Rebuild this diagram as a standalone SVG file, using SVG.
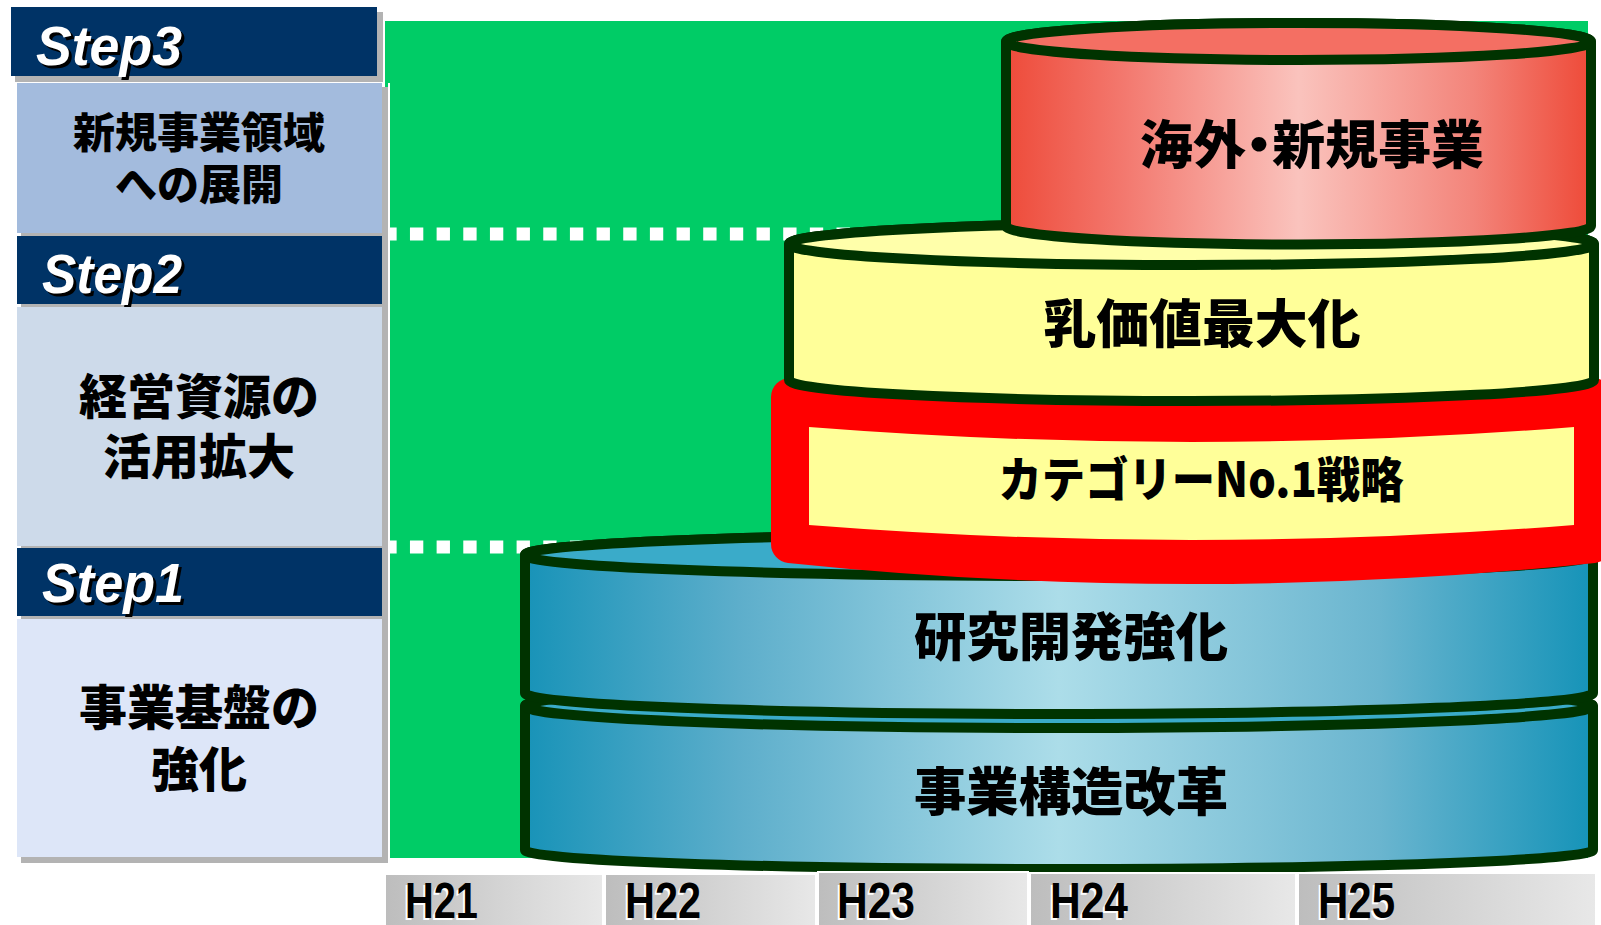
<svg xmlns="http://www.w3.org/2000/svg" width="1601" height="925" viewBox="0 0 1601 925">
<defs>
<style>
.hdr{fill:#003366}
.shadow{fill:#b3b3b3}
.step{font-family:"Liberation Sans",Arial,sans-serif;font-weight:700;font-style:italic;font-size:55px}
.stepw{fill:#ffffff}
.stepb{fill:#000000}
.lbl{font-family:"Noto Sans CJK JP","Noto Sans CJK SC",sans-serif;font-weight:900;fill:#000000;text-anchor:middle}
.palt{font-feature-settings:"palt" 1}
.cyl{stroke:#003300;stroke-width:10;stroke-linejoin:round}
.dots{stroke:#ffffff;stroke-width:13;stroke-dasharray:13.33 13.33;fill:none}
.axis{stroke:#ffffff;stroke-width:2;fill:url(#gGray)}
.ax{font-family:"Liberation Sans",Arial,sans-serif;font-weight:700;font-size:50px}
</style>
<linearGradient id="gRed" x1="0" y1="0" x2="1" y2="0">
<stop offset="0" stop-color="#ee4b3a"/>
<stop offset="0.2" stop-color="#f3786e"/>
<stop offset="0.5" stop-color="#fac3bd"/>
<stop offset="0.8" stop-color="#f3847a"/>
<stop offset="1" stop-color="#ee4a38"/>
</linearGradient>
<linearGradient id="gBlue" x1="0" y1="0" x2="1" y2="0">
<stop offset="0" stop-color="#1893b8"/>
<stop offset="0.2" stop-color="#5daecb"/>
<stop offset="0.5" stop-color="#acdde9"/>
<stop offset="0.8" stop-color="#6ab5cf"/>
<stop offset="1" stop-color="#1593b8"/>
</linearGradient>
<linearGradient id="gGray" x1="0" y1="0" x2="1" y2="0">
<stop offset="0" stop-color="#bdbdbd"/>
<stop offset="1" stop-color="#e8e8e8"/>
</linearGradient>
</defs>
<rect width="1601" height="925" fill="#ffffff"/>

<!-- green background -->
<rect id="bg" x="385" y="21" width="1203" height="837" fill="#00cc66"/>

<!-- guides -->
<g id="guides">
<line class="dots" x1="383.3" y1="234" x2="900" y2="234"/>
<line class="dots" x1="383.3" y1="547" x2="600" y2="547"/>
</g>

<!-- left panel shadows -->
<rect class="shadow" x="15" y="12" width="368" height="70"/>
<rect class="shadow" x="21" y="87" width="368" height="776"/>
<rect x="388" y="83" width="2" height="780" fill="#ffffff"/>

<g id="step3">
<rect class="hdr" x="11" y="7" width="366" height="69"/>
<text class="step stepb" x="39" y="68" textLength="146" lengthAdjust="spacingAndGlyphs">Step3</text>
<text class="step stepw" x="36" y="65" textLength="146" lengthAdjust="spacingAndGlyphs">Step3</text>
</g>
<g id="step3-body">
<rect x="17" y="83" width="365" height="150" fill="#a3bbdd"/>
<text class="lbl" x="199" y="148" font-size="42">新規事業領域</text>
<text class="lbl" x="199" y="200" font-size="42">への展開</text>
</g>
<g id="step2">
<rect class="hdr" x="17" y="236" width="365" height="68"/>
<text class="step stepb" x="45" y="296" textLength="140" lengthAdjust="spacingAndGlyphs">Step2</text>
<text class="step stepw" x="42" y="293" textLength="140" lengthAdjust="spacingAndGlyphs">Step2</text>
</g>
<g id="step2-body">
<rect x="17" y="307" width="365" height="239" fill="#cddaea"/>
<text class="lbl" x="199" y="414" font-size="48">経営資源の</text>
<text class="lbl" x="199" y="474" font-size="48">活用拡大</text>
</g>
<g id="step1">
<rect class="hdr" x="17" y="548" width="365" height="68"/>
<text class="step stepb" x="45" y="605" textLength="142" lengthAdjust="spacingAndGlyphs">Step1</text>
<text class="step stepw" x="42" y="602" textLength="142" lengthAdjust="spacingAndGlyphs">Step1</text>
</g>
<g id="step1-body">
<rect x="17" y="619" width="365" height="238" fill="#dde6f8"/>
<text class="lbl" x="199" y="725" font-size="48">事業基盤の</text>
<text class="lbl" x="199" y="787" font-size="48">強化</text>
</g>

<!-- cylinders -->
<g id="cyl-jigyokozo">
<path class="cyl" fill="url(#gBlue)" d="M525,706 L525,850 A534,19 0 0 0 1593,850 L1593,706 A534,22 0 0 0 525,706 Z"/>
<ellipse class="cyl" cx="1059" cy="706" rx="534" ry="22" fill="#3aabc9"/>
<text class="lbl" x="1071" y="811" font-size="52" textLength="314" lengthAdjust="spacingAndGlyphs">事業構造改革</text>
</g>
<g id="cyl-kenkyu">
<path class="cyl" fill="url(#gBlue)" d="M525,555 L525,693 A534,21 0 0 0 1593,693 L1593,555 A534,21 0 0 0 525,555 Z"/>
<ellipse class="cyl" cx="1059" cy="555" rx="534" ry="21" fill="#3aabc9"/>
<text class="lbl" x="1071" y="656" font-size="52" textLength="314" lengthAdjust="spacingAndGlyphs">研究開発強化</text>
</g>
<g id="band-category">
<path d="M790,397 Q1192,437 1593,397 L1593,544 Q1192,586 790,544 Z" fill="#ff0000" stroke="#ff0000" stroke-width="38" stroke-linejoin="round"/>
<path d="M809,427 Q1191.5,457 1574,427 L1574,525 Q1191.5,555 809,525 Z" fill="#ffff99"/>
<text class="lbl" x="1201" y="497" font-size="48" textLength="405" lengthAdjust="spacingAndGlyphs">カテゴリーNo.1戦略</text>
</g>
<g id="cyl-nyuka">
<path class="cyl" fill="#ffff99" d="M789,244 L789,380 A402.5,21 0 0 0 1594,380 L1594,244 A402.5,21 0 0 0 789,244 Z"/>
<ellipse class="cyl" cx="1191.5" cy="244" rx="402.5" ry="21" fill="#ffffaa"/>
<text class="lbl" x="1202" y="343" font-size="52" textLength="317" lengthAdjust="spacingAndGlyphs">乳価値最大化</text>
</g>
<g id="cyl-kaigai">
<path class="cyl" fill="url(#gRed)" d="M1006,41.5 L1006,226 A292.5,18.5 0 0 0 1591,226 L1591,41.5 A292.5,18.5 0 0 0 1006,41.5 Z"/>
<ellipse class="cyl" cx="1298.5" cy="41.5" rx="292.5" ry="18.5" fill="#f46f63"/>
<text class="lbl palt" x="1312" y="164" font-size="52" textLength="344" lengthAdjust="spacingAndGlyphs">海外・新規事業</text>
</g>

<!-- axis -->
<g id="axis-h21">
<rect class="axis" x="385" y="874" width="218" height="52"/>
<text class="ax" x="403" y="920" fill="#ffffff" textLength="73" lengthAdjust="spacingAndGlyphs">H21</text>
<text class="ax" x="405" y="918" fill="#000000" textLength="73" lengthAdjust="spacingAndGlyphs">H21</text>
</g>
<g id="axis-h22">
<rect class="axis" x="605" y="874" width="211" height="52"/>
<text class="ax" x="623" y="920" fill="#ffffff" textLength="76" lengthAdjust="spacingAndGlyphs">H22</text>
<text class="ax" x="625" y="918" fill="#000000" textLength="76" lengthAdjust="spacingAndGlyphs">H22</text>
</g>
<g id="axis-h23">
<rect class="axis" x="818" y="872" width="210" height="54"/>
<text class="ax" x="835" y="920" fill="#ffffff" textLength="78" lengthAdjust="spacingAndGlyphs">H23</text>
<text class="ax" x="837" y="918" fill="#000000" textLength="78" lengthAdjust="spacingAndGlyphs">H23</text>
</g>
<g id="axis-h24">
<rect class="axis" x="1030" y="873" width="266" height="53"/>
<text class="ax" x="1048" y="920" fill="#ffffff" textLength="78" lengthAdjust="spacingAndGlyphs">H24</text>
<text class="ax" x="1050" y="918" fill="#000000" textLength="78" lengthAdjust="spacingAndGlyphs">H24</text>
</g>
<g id="axis-h25">
<rect class="axis" x="1298" y="873" width="298" height="53"/>
<text class="ax" x="1316" y="920" fill="#ffffff" textLength="77" lengthAdjust="spacingAndGlyphs">H25</text>
<text class="ax" x="1318" y="918" fill="#000000" textLength="77" lengthAdjust="spacingAndGlyphs">H25</text>
</g>
</svg>
